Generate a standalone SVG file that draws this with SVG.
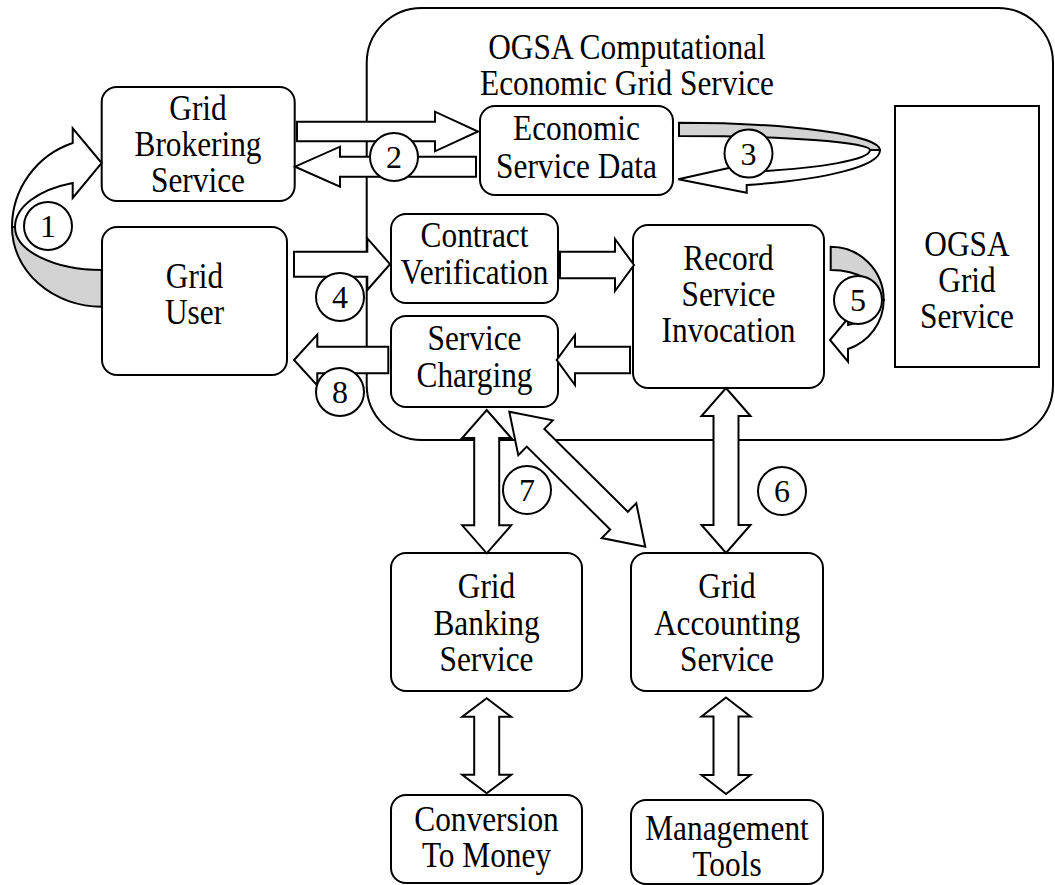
<svg xmlns="http://www.w3.org/2000/svg" width="1055" height="885" viewBox="0 0 1055 885">
<style>
.box{fill:#fff;stroke:#000;stroke-width:2}
.arr{fill:#fff;stroke:#000;stroke-width:2;stroke-linejoin:miter}
.grey{fill:#d3d3d3;stroke:#000;stroke-width:2}
.t{font-family:"Liberation Serif","Times New Roman",serif;font-size:36px;text-anchor:middle;fill:#000}
.n{font-family:"Liberation Serif","Times New Roman",serif;font-size:32px;text-anchor:middle;fill:#000}
</style>
<rect width="1055" height="885" fill="#fff"/>
<g id="container">
<path class="box" d="M421.7,8 H998 A55,55 0 0 1 1053,63 V385 A55,55 0 0 1 998,440 H421.7 A55,55 0 0 1 366.7,385 V63 A55,55 0 0 1 421.7,8 Z"/>
<text class="t" transform="translate(627,59) scale(0.87,1)">OGSA Computational</text>
<text class="t" transform="translate(627,95) scale(0.87,1)">Economic Grid Service</text>
</g>
<g id="brokering"><rect class="box" x="101.7" y="87" width="193" height="114" rx="15"/>
<text class="t" transform="translate(198,120) scale(0.87,1)">Grid</text><text class="t" transform="translate(198,156) scale(0.87,1)">Brokering</text><text class="t" transform="translate(198,192) scale(0.87,1)">Service</text></g>
<g id="user"><rect class="box" x="102" y="227" width="185" height="148" rx="15"/>
<text class="t" transform="translate(194.5,288) scale(0.87,1)">Grid</text><text class="t" transform="translate(194.5,324) scale(0.87,1)">User</text></g>
<g id="economic"><rect class="box" x="480" y="106" width="193" height="89" rx="15"/>
<text class="t" transform="translate(576.5,140) scale(0.87,1)">Economic</text><text class="t" transform="translate(576.5,178) scale(0.87,1)">Service Data</text></g>
<g id="contract"><rect class="box" x="391" y="214" width="167" height="89" rx="15"/>
<text class="t" transform="translate(474.5,247) scale(0.87,1)">Contract</text><text class="t" transform="translate(474.5,284) scale(0.87,1)">Verification</text></g>
<g id="charging"><rect class="box" x="391" y="316" width="167" height="91" rx="15"/>
<text class="t" transform="translate(474.5,350) scale(0.87,1)">Service</text><text class="t" transform="translate(474.5,387) scale(0.87,1)">Charging</text></g>
<g id="record"><rect class="box" x="633" y="225" width="191" height="163" rx="15"/>
<text class="t" transform="translate(728.5,270) scale(0.87,1)">Record</text><text class="t" transform="translate(728.5,306) scale(0.87,1)">Service</text><text class="t" transform="translate(728.5,342) scale(0.87,1)">Invocation</text></g>
<g id="ogsa"><rect class="box" x="895" y="106" width="144" height="261"/>
<text class="t" transform="translate(967,256) scale(0.87,1)">OGSA</text><text class="t" transform="translate(967,292) scale(0.87,1)">Grid</text><text class="t" transform="translate(967,328) scale(0.87,1)">Service</text></g>
<g id="banking"><rect class="box" x="391" y="553" width="191" height="138" rx="15"/>
<text class="t" transform="translate(486.5,598) scale(0.87,1)">Grid</text><text class="t" transform="translate(486.5,635) scale(0.87,1)">Banking</text><text class="t" transform="translate(486.5,671) scale(0.87,1)">Service</text></g>
<g id="accounting"><rect class="box" x="631" y="553" width="192" height="138" rx="15"/>
<text class="t" transform="translate(727,598) scale(0.87,1)">Grid</text><text class="t" transform="translate(727,635) scale(0.87,1)">Accounting</text><text class="t" transform="translate(727,671) scale(0.87,1)">Service</text></g>
<g id="conversion"><rect class="box" x="391" y="795" width="191" height="88" rx="15"/>
<text class="t" transform="translate(486.5,831) scale(0.87,1)">Conversion</text><text class="t" transform="translate(486.5,867) scale(0.87,1)">To Money</text></g>
<g id="management"><rect class="box" x="631" y="800" width="192" height="84" rx="15"/>
<text class="t" transform="translate(727,840) scale(0.87,1)">Management</text><text class="t" transform="translate(727,876) scale(0.87,1)">Tools</text></g>
<g id="connectors">
<path class="grey" d="M12,227 A89.7,79.7 0 0 0 101.7,306.7 L101.7,270 A86.7,43 0 0 1 15,227 Z"/>
<path class="arr" d="M12,227 A89.7,88.8 0 0 1 72.7,143 L72.7,128.3 L101.7,163 L72.7,198 L72.7,183 A86.7,46.7 0 0 0 15,227 Z"/>
<path class="arr" d="M297,121.7 L435,121.7 L435,111.7 L478,131.5 L435,151.3 L435,141.3 L297,141.3 Z"/>
<path class="arr" d="M476,156.7 L340,156.7 L340,146.7 L295,166.7 L340,186.7 L340,176.7 L476,176.7 Z"/>
<path class="grey" d="M679,122.7 A201,27.3 0 0 1 880,150 L870,150 A191,14 0 0 0 679,136 Z"/>
<path class="arr" d="M880,150 A201,37 0 0 1 746.7,185 L746.7,192.7 L678.3,179.3 L746.7,164 L746.7,172 A191,23.5 0 0 0 870,150 Z"/>
<path class="arr" d="M294,251.7 L367.3,251.7 L367.3,238.3 L390,264.2 L367.3,290 L367.3,276.7 L294,276.7 Z"/>
<path class="arr" d="M560,251.7 L615,251.7 L615,239 L634,265 L615,291 L615,278.3 L560,278.3 Z"/>
<path class="arr" d="M630,346.7 L575,346.7 L575,335 L556.7,360 L575,385 L575,373.3 L630,373.3 Z"/>
<path class="arr" d="M388.3,346.7 L317.3,346.7 L317.3,334.5 L294,360 L317.3,385.5 L317.3,373.3 L388.3,373.3 Z"/>
<path class="grey" d="M830.7,246.7 A53,53.3 0 0 1 883.7,300 L880.7,300 A50,30 0 0 0 830.7,270 Z"/>
<path class="arr" d="M883.7,300 A53,52 0 0 1 848,349 L848,361.7 L830,340 L848,318.3 L848,325 A50,27 0 0 0 880.7,300 Z"/>
<path class="arr" d="M486.7,410 L511.2,438 L499.2,438 L499.2,525.3 L511.2,525.3 L486.7,553.3 L462.2,525.3 L474.2,525.3 L474.2,438 L462.2,438 Z"/>
<path class="arr" transform="translate(509.3,411.7) rotate(44.8)" d="M0,0 L37,-24.5 L37,-12.5 L154.6,-12.5 L154.6,-24.5 L191.6,0 L154.6,24.5 L154.6,12.5 L37,12.5 L37,24.5 Z"/>
<path class="arr" d="M726,388 L750.5,416 L738.5,416 L738.5,525 L750.5,525 L726,553 L701.5,525 L713.5,525 L713.5,416 L701.5,416 Z"/>
<path class="arr" d="M486.7,698.3 L511.2,716.8 L499.2,716.8 L499.2,774.8 L511.2,774.8 L486.7,793.3 L462.2,774.8 L474.2,774.8 L474.2,716.8 L462.2,716.8 Z"/>
<path class="arr" d="M726,697.5 L750.5,716.5 L738.5,716.5 L738.5,775 L750.5,775 L726,794 L701.5,775 L713.5,775 L713.5,716.5 L701.5,716.5 Z"/>
</g>
<g id="labels">
<g id="c1"><circle class="box" cx="48" cy="226" r="24"/><text class="n" x="48" y="237">1</text></g>
<g id="c2"><circle class="box" cx="394" cy="157" r="24"/><text class="n" x="394" y="168">2</text></g>
<g id="c3"><circle class="box" cx="748.5" cy="153.5" r="24"/><text class="n" x="748.5" y="165">3</text></g>
<g id="c4"><circle class="box" cx="340" cy="297" r="24"/><text class="n" x="340" y="308">4</text></g>
<g id="c5"><circle class="box" cx="858" cy="300" r="24"/><text class="n" x="858" y="311">5</text></g>
<g id="c6"><circle class="box" cx="782" cy="491" r="24"/><text class="n" x="782" y="502">6</text></g>
<g id="c7"><circle class="box" cx="527" cy="490" r="24"/><text class="n" x="527" y="501">7</text></g>
<g id="c8"><circle class="box" cx="340" cy="392" r="24"/><text class="n" x="340" y="403">8</text></g>
</g>
</svg>
